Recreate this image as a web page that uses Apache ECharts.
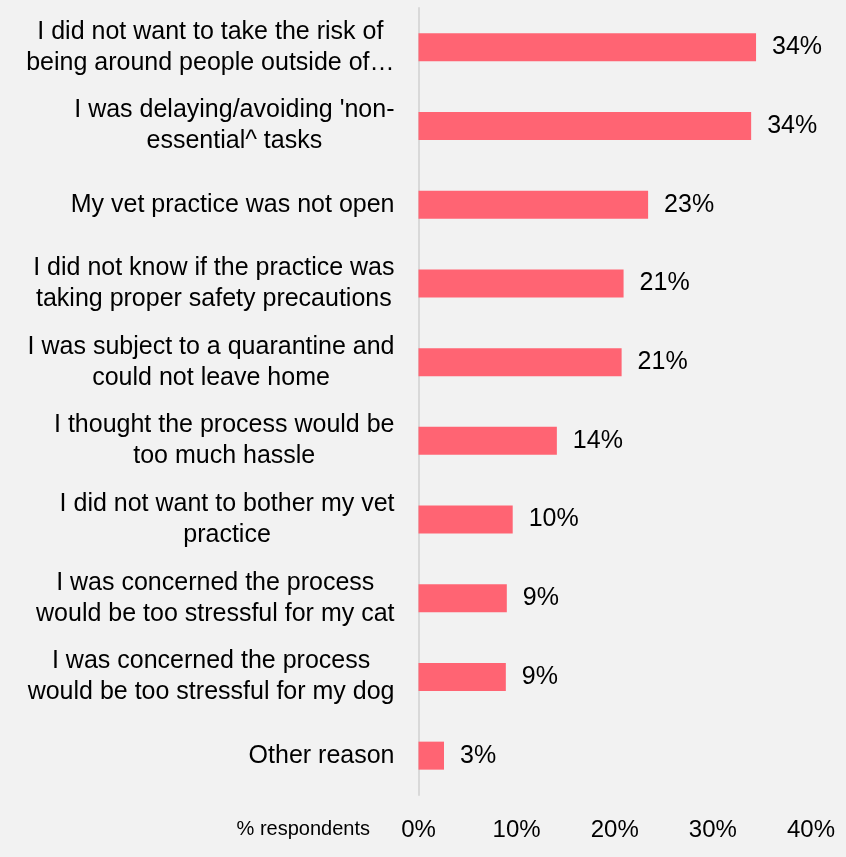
<!DOCTYPE html>
<html>
<head>
<meta charset="utf-8">
<script src="https://cdn.jsdelivr.net/npm/echarts@6/dist/echarts.min.js"></script>
<style>
  html, body { margin: 0; padding: 0; background: #f2f2f2; }
  #chart { width: 846px; height: 857px; }
</style>
</head>
<body>
<div id="chart"></div>
<script>
// Reasons given, top to bottom
const categories = [
  "I did not want to take the risk of\nbeing around people outside of\u2026",
  "I was delaying/avoiding 'non-\nessential^ tasks",
  "My vet practice was not open",
  "I did not know if the practice was\ntaking proper safety precautions",
  "I was subject to a quarantine and\ncould not leave home",
  "I thought the process would be\ntoo much hassle",
  "I did not want to bother my vet\npractice",
  "I was concerned the process\nwould be too stressful for my cat",
  "I was concerned the process\nwould be too stressful for my dog",
  "Other reason"
];
// Share of respondents (%)
const shares = [34.4, 33.9, 23.4, 20.9, 20.7, 14.1, 9.6, 9.0, 8.9, 2.6];
const xTicks = [0, 10, 20, 30, 40];
const axisTitle = "% respondents";

const chart = echarts.init(document.getElementById('chart'));

// Wrap every line of a category in a centred rich fragment so multi-line
// labels are centred within their right-aligned block.
function centredLines(text) {
  return text.split('\n').map(l => '{c|' + l + '}').join('\n');
}

chart.setOption({
  backgroundColor: '#f2f2f2',
  animation: false,
  grid: { left: 418.5, right: 35, top: 8, bottom: 62, containLabel: false },
  xAxis: {
    type: 'value',
    min: xTicks[0],
    max: xTicks[xTicks.length - 1],
    interval: xTicks[1] - xTicks[0],
    axisLine: { show: false },
    axisTick: { show: false },
    splitLine: { show: false },
    axisLabel: {
      formatter: '{value}%',
      color: '#000',
      fontFamily: 'Liberation Sans, Arial, sans-serif',
      fontSize: 24,
      margin: 23
    }
  },
  yAxis: {
    type: 'category',
    data: categories,
    inverse: true,
    axisLine: { show: true, lineStyle: { color: '#d9d9d9', width: 2 } },
    axisTick: { show: false },
    splitLine: { show: false },
    axisLabel: {
      margin: 24,
      align: 'right',
      formatter: centredLines,
      rich: {
        c: {
          align: 'center',
          color: '#000',
          fontFamily: 'Liberation Sans, Arial, sans-serif',
          fontSize: 25,
          lineHeight: 31
        }
      }
    }
  },
  graphic: [{
    type: 'text',
    right: 846 - 370,
    top: 819,
    style: {
      text: axisTitle,
      fill: '#000',
      font: '20px "Liberation Sans", Arial, sans-serif'
    }
  }],
  series: [{
    type: 'bar',
    data: shares,
    barWidth: 28,
    itemStyle: { color: '#ff6473' },
    label: {
      show: true,
      position: 'right',
      distance: 16,
      color: '#000',
      fontFamily: 'Liberation Sans, Arial, sans-serif',
      fontSize: 25,
      formatter: p => Math.round(p.value) + '%'
    }
  }]
});
</script>
</body>
</html>
